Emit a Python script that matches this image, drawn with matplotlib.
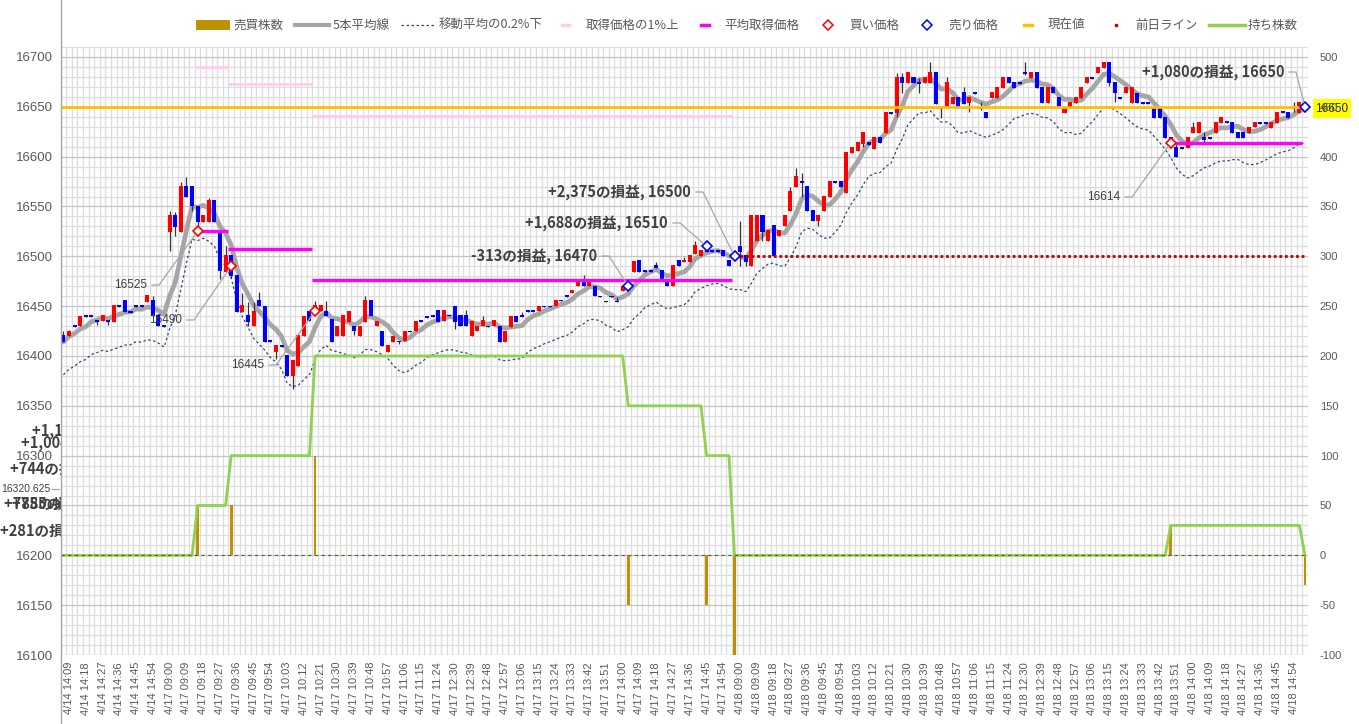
import matplotlib
matplotlib.use("Agg")
import matplotlib.pyplot as plt
import numpy as np
import pandas as pd
from matplotlib.lines import Line2D
from matplotlib.patches import Rectangle
from matplotlib.transforms import IdentityTransform

W, H = 1359, 724
JP = ["Noto Sans CJK JP", "DejaVu Sans"]
NUM = ["Liberation Sans", "DejaVu Sans"]


# 3-minute bars, three trading days
def session(day, start, end):
    times = pd.date_range(f"2000-01-01 {start}", f"2000-01-01 {end}", freq="3min")
    return [f"{day} {t:%H:%M}" for t in times]


CATS = (session("4/14", "14:06", "15:00")
        + session("4/17", "09:00", "11:30") + session("4/17", "12:30", "15:00")
        + session("4/18", "09:00", "11:30") + session("4/18", "12:30", "15:00"))

OPEN = [
    16421, 16420, 16431, 16430, 16441, 16441, 16436, 16435, 16436, 16434,
    16451, 16456, 16445, 16451, 16451, 16454, 16456, 16441, 16431, 16524,
    16541, 16524, 16571, 16571, 16550, 16534, 16534, 16556, 16526, 16484,
    16501, 16481, 16444, 16441, 16430, 16456, 16450, 16416, 16404, 16411,
    16401, 16380, 16390, 16420, 16445, 16443, 16445, 16445, 16437, 16420,
    16420, 16434, 16430, 16420, 16434, 16456, 16430, 16425, 16404, 16414,
    16415, 16415, 16425, 16425, 16436, 16440, 16441, 16446, 16435, 16441,
    16450, 16441, 16441, 16420, 16425, 16430, 16430, 16430, 16430, 16414,
    16429, 16440, 16441, 16446, 16446, 16445, 16450, 16450, 16450, 16456,
    16461, 16463, 16470, 16476, 16470, 16470, 16460, 16455, 16460, 16455,
    16465, 16470, 16484, 16496, 16486, 16486, 16491, 16486, 16476, 16470,
    16496, 16494, 16494, 16502, 16500, 16506, 16506, 16506, 16506, 16496,
    16500, 16510, 16501, 16490, 16515, 16541, 16515, 16531, 16520, 16530,
    16545, 16570, 16576, 16571, 16546, 16535, 16545, 16560, 16576, 16576,
    16564, 16604, 16606, 16613, 16615, 16608, 16620, 16624, 16645, 16644,
    16680, 16674, 16680, 16675, 16674, 16674, 16685, 16650, 16650, 16653,
    16660, 16665, 16654, 16665, 16650, 16645, 16659, 16659, 16669, 16680,
    16675, 16675, 16685, 16679, 16685, 16670, 16654, 16670, 16660, 16644,
    16649, 16654, 16659, 16674, 16680, 16684, 16689, 16695, 16675, 16660,
    16664, 16654, 16664, 16655, 16655, 16649, 16649, 16640, 16620, 16610,
    16610, 16609, 16624, 16624, 16620, 16620, 16624, 16634, 16635, 16635,
    16625, 16625, 16624, 16630, 16634, 16634, 16629, 16634, 16645, 16645,
    16650, 16644, 16650,
]
CLOSE = [
    16414, 16425, 16429, 16440, 16439, 16439, 16434, 16441, 16434, 16451,
    16449, 16444, 16443, 16449, 16449, 16461, 16440, 16430, 16429, 16541,
    16529, 16571, 16560, 16550, 16534, 16541, 16556, 16534, 16485, 16501,
    16480, 16444, 16451, 16434, 16445, 16450, 16414, 16414, 16411, 16409,
    16380, 16396, 16421, 16440, 16435, 16451, 16451, 16440, 16414, 16430,
    16441, 16445, 16425, 16430, 16456, 16440, 16435, 16410, 16411, 16420,
    16414, 16425, 16424, 16435, 16434, 16438, 16439, 16434, 16446, 16440,
    16434, 16430, 16430, 16435, 16430, 16436, 16429, 16436, 16414, 16425,
    16440, 16434, 16439, 16444, 16444, 16450, 16449, 16449, 16456, 16455,
    16459, 16466, 16476, 16470, 16476, 16460, 16459, 16454, 16459, 16454,
    16470, 16475, 16495, 16484, 16484, 16484, 16488, 16475, 16470, 16491,
    16490, 16496, 16501, 16511, 16506, 16504, 16504, 16504, 16500, 16490,
    16500, 16504, 16494, 16541, 16541, 16524, 16526, 16500, 16526, 16541,
    16566, 16581, 16574, 16545, 16535, 16541, 16561, 16576, 16574, 16570,
    16605, 16610, 16615, 16625, 16612, 16620, 16614, 16645, 16643, 16680,
    16674, 16685, 16674, 16673, 16680, 16685, 16653, 16648, 16675, 16660,
    16649, 16653, 16660, 16663, 16648, 16639, 16665, 16670, 16680, 16674,
    16669, 16673, 16683, 16685, 16669, 16654, 16670, 16664, 16649, 16650,
    16655, 16660, 16670, 16680, 16678, 16690, 16695, 16674, 16664, 16658,
    16670, 16670, 16654, 16653, 16653, 16639, 16639, 16619, 16612, 16600,
    16608, 16620, 16630, 16635, 16617, 16618, 16635, 16640, 16634, 16624,
    16619, 16619, 16630, 16635, 16633, 16633, 16635, 16645, 16644, 16639,
    16648, 16655, 16650,
]
# wick ends that stick out of the body (bar index -> price)
WICK_HIGH = {0: 16425, 1: 16426, 16: 16460, 19: 16545, 20: 16544, 21: 16575,
             22: 16580, 26: 16559, 29: 16510, 32: 16463, 33: 16454, 34: 16454,
             35: 16464, 45: 16455, 47: 16455, 54: 16460, 72: 16446, 75: 16440,
             82: 16444, 93: 16481, 99: 16459, 101: 16477, 106: 16494, 111: 16499,
             113: 16515, 121: 16535, 130: 16570, 131: 16589, 132: 16584,
             149: 16684, 150: 16684, 153: 16679, 155: 16695, 158: 16680,
             161: 16670, 164: 16655, 172: 16695, 199: 16615, 202: 16635,
             204: 16625, 220: 16655}
WICK_LOW = {6: 16431, 8: 16431, 19: 16505, 20: 16520, 23: 16545, 24: 16525,
            28: 16477, 30: 16478, 33: 16430, 38: 16397, 41: 16367, 52: 16421,
            60: 16412, 70: 16427, 121: 16490, 122: 16490, 125: 16515, 132: 16560,
            135: 16530, 143: 16610, 149: 16640, 150: 16664, 153: 16664, 157: 16639,
            162: 16645, 164: 16647, 172: 16682, 187: 16671, 188: 16655, 198: 16610,
            204: 16615, 220: 16645}

# trades: bar index, shares (+buy / -sell), price
TRADE_IDX = [24, 30, 45, 101, 115, 120, 198, 222]
TRADE_QTY = [50, 50, 100, -50, -50, -100, 30, -30]
TRADE_PRICE = [16525, 16490, 16445, 16470, 16510, 16500, 16614, 16650]

# holdings line (right axis): runs of (first bar, last bar, shares)
HOLD_RUNS = [(0, 23, 0), (24, 29, 50), (30, 44, 100), (45, 100, 200),
             (101, 114, 150), (115, 119, 100), (120, 197, 0), (198, 221, 30),
             (222, 222, 0)]

# average cost and cost +1% (first bar, last bar, price)
AVG_RUNS = [(24, 29, 16525), (30, 44, 16507.5), (45, 119, 16476.25), (198, 221, 16614)]
UP1_RUNS = [(24, 29, 16690.25), (30, 44, 16672.6), (45, 119, 16641.0)]

CURRENT = 16650
PREV_DAY = 16500
PREV_DAY_FROM = 121

LEFT_TICKS = [16100, 16150, 16200, 16300, 16350, 16400, 16450, 16500,
              16550, 16600, 16650, 16700]
RIGHT_TICKS = list(range(-100, 501, 50))

# data labels: text, bar, price, label right edge (px), label y (px), bold
LABELS = [
    ("16525", 24, 16525, 147, 285, False),
    ("16490", 30, 16490, 182, 320, False),
    ("16445", 45, 16445, 264, 365, False),
    ("-313の損益, 16470", 101, 16470, 597, 256, True),
    ("+1,688の損益, 16510", 115, 16510, 668, 223, True),
    ("+2,375の損益, 16500", 120, 16500, 691, 192, True),
    ("+1,080の損益, 16650", 222, 16650, 1284, 72, True),
    ("16614", 198, 16614, 1120, 197, False),
]
# labels of earlier trades, hidden behind the plot area (text, left px, y px)
HIDDEN_LABELS = [
    ("+1,104の損益, 16520", 32, 431),
    ("+1,004の損益, 16510", 21, 443),
    ("+744の損益, 16480", 10, 469),
    ("+788の損益, 16490", 4, 504),
    ("+755の損益, 16485", 12, 504),
    ("+281の損益, 16460", 0, 531),
]

RED, BLUE = "#FF0000", "#0000FF"
GRID_MINOR, GRID_MAJOR = "#DDDDDD", "#C4C4C4"
TXT = "#595959"

n = len(CATS)
x = np.arange(n)
o = np.array(OPEN, float)
c = np.array(CLOSE, float)
hi = np.maximum(o, c)
lo = np.minimum(o, c)
for k, v in WICK_HIGH.items():
    hi[k] = v
for k, v in WICK_LOW.items():
    lo[k] = v
ma5 = pd.Series(c).rolling(5, min_periods=1).mean().to_numpy()
hold = np.zeros(n)
for a, b, v in HOLD_RUNS:
    hold[a:b + 1] = v

fig = plt.figure(figsize=(W / 100, H / 100), dpi=100)
left_px, right_px, top_px, bot_px = 60.6, 1307.8, 47, 655
ax = fig.add_axes([left_px / W, 1 - bot_px / H, (right_px - left_px) / W, (bot_px - top_px) / H])
ax.set_xlim(-0.5, n - 0.5)
ax.set_ylim(16100, 16710)
ax2 = ax.twinx()
ax2.set_ylim(-100, 510)
for a in (ax, ax2):
    for s in a.spines.values():
        s.set_visible(False)

# grid
ax.vlines(np.arange(n + 1) - 0.5, 16100, 16710, color=GRID_MINOR, lw=0.9, zorder=0)
ys = np.arange(16110, 16711, 10)
ax.hlines(ys[ys % 50 != 0], -0.5, n - 0.5, color=GRID_MINOR, lw=0.9, zorder=0)
ax.hlines(np.arange(16100, 16701, 50), -0.5, n - 0.5, color=GRID_MAJOR, lw=0.9, zorder=0.1)

# moving averages
ax.plot(x, ma5, color="#A6A6A6", lw=3.4, solid_capstyle="round", zorder=2)
ax.plot(x, ma5 * 0.998, color="#2F4A7A", lw=0.9, ls=(0, (2, 2)), zorder=2)

# candles
up = c >= o
ax.vlines(x, lo, hi, color="#333333", lw=0.9, zorder=3)
body = np.maximum(np.abs(c - o), 1.3)
ax.bar(x, body, bottom=np.minimum(o, c), width=0.72,
       color=np.where(up, RED, BLUE), zorder=4)

# cost lines
for a, b, v in UP1_RUNS:
    ax.hlines(v, a - 0.5, b + 0.5, color="#FFCCEE", lw=2, zorder=5)
for a, b, v in AVG_RUNS:
    ax.hlines(v, a - 0.5, b + 0.5, color="#FF00FF", lw=2.4, zorder=5)
ax.hlines(CURRENT, -0.5, n - 0.5, color="#FFC000", lw=2, zorder=5)
ax.plot(x[PREV_DAY_FROM:], np.full(n - PREV_DAY_FROM, PREV_DAY), color="#C00000",
        lw=2, ls=(0, (1, 1)), zorder=5)

# holdings and trade volume (right axis)
ax2.bar(TRADE_IDX, TRADE_QTY, width=0.5, color="#BF9000", zorder=2)
ax2.plot(x, hold, color="#92D050", lw=2, zorder=3)
ax2.axhline(0, color="#4F6228", lw=0.8, ls=(0, (3, 3)), zorder=3.5)

# trade markers (price axis mapped onto the right axis: 16100 -> -100)
buy = [i for i, q in enumerate(TRADE_QTY) if q > 0]
sell = [i for i, q in enumerate(TRADE_QTY) if q < 0]
ax2.plot([TRADE_IDX[i] for i in buy], [TRADE_PRICE[i] - 16200 for i in buy],
         ls="none", marker="D", ms=5.5, mfc="white", mec=RED, mew=1.2, zorder=6, clip_on=False)
ax2.plot([TRADE_IDX[i] for i in sell], [TRADE_PRICE[i] - 16200 for i in sell],
         ls="none", marker="D", ms=5.5, mfc="white", mec=BLUE, mew=1.2, zorder=6, clip_on=False)

# ticks
ax.set_xticks(x[1::3])
ax.set_xticklabels(CATS[1::3], rotation=90, fontsize=8, color=TXT, family=NUM)
ax.tick_params(axis="x", length=0, pad=5)
ax.set_yticks(LEFT_TICKS)
ax.set_yticklabels([str(v) for v in LEFT_TICKS], fontsize=9.5, color=TXT, family=NUM)
ax.tick_params(axis="y", length=0, pad=5.5)
ax2.set_yticks(RIGHT_TICKS)
ax2.set_yticklabels([str(v) for v in RIGHT_TICKS], fontsize=8, color=TXT, family=NUM)
ax2.tick_params(axis="y", length=0, pad=8.5)

# left axis line running the full height
fig.add_artist(Line2D([left_px, left_px], [0, H], transform=IdentityTransform(),
                      color="#A6A6A6", lw=1))

# data labels with leader lines
fig.canvas.draw()
for text, i, p, xr, yt, bold in LABELS:
    fig.text(xr / W, 1 - yt / H, text, ha="right", va="center",
             fontsize=10.5 if bold else 8.5, fontweight="bold" if bold else "normal",
             color="#404040", family=JP if bold else NUM, zorder=7)
    px, py = ax.transData.transform((i, p))
    x0, y0 = xr + 5, H - yt
    x1 = x0 + 7
    d = np.hypot(px - x1, py - y0)
    ex, ey = px - (px - x1) * 5 / d, py - (py - y0) * 5 / d
    fig.add_artist(Line2D([x0, x1, ex], [y0, y0, ey], transform=IdentityTransform(),
                          color="#A6A6A6", lw=0.9, zorder=7))

for text, xl, yt in HIDDEN_LABELS:
    fig.text(xl / W, 1 - yt / H, text, ha="left", va="center", fontsize=10.5,
             fontweight="bold", color="#404040", family=JP, zorder=-1)
fig.text(50 / W, 1 - 489 / H, "16320.625", ha="right", va="center", fontsize=7.5,
         color="#404040", family=NUM, zorder=-1)
fig.add_artist(Line2D([52, 59], [H - 489, H - 489], transform=IdentityTransform(),
                      color="#A6A6A6", lw=0.9))

# current value box at the right
fig.add_artist(Rectangle((1313, H - 118), 38, 19, transform=IdentityTransform(),
                         facecolor="#FFFF00", edgecolor="none", zorder=-1))
fig.text(1332 / W, 1 - 108.5 / H, "16650", ha="center", va="center", fontsize=8.5,
         color="#262626", family=NUM, zorder=-0.5)

# legend
ly = H - 25
def leg_text(xp, s):
    fig.text(xp / W, ly / H, s, ha="left", va="center", fontsize=9, color=TXT, family=JP)

fig.add_artist(Rectangle((196, ly - 5), 34, 10, transform=IdentityTransform(),
                         facecolor="#BF9000", edgecolor="none"))
leg_text(233, "売買株数")
fig.add_artist(Line2D([295, 329], [ly, ly], transform=IdentityTransform(), color="#A6A6A6", lw=3))
leg_text(333, "5本平均線")
fig.add_artist(Line2D([401, 436], [ly, ly], transform=IdentityTransform(), color="#2F4A7A",
                      lw=0.9, ls=(0, (2, 2))))
leg_text(439, "移動平均の0.2%下")
fig.add_artist(Line2D([562, 569], [ly, ly], transform=IdentityTransform(), color="#FFCCEE", lw=2.5))
leg_text(586, "取得価格の1%上")
fig.add_artist(Line2D([701, 709], [ly, ly], transform=IdentityTransform(), color="#FF00FF", lw=2.5))
leg_text(724, "平均取得価格")
fig.add_artist(Line2D([828], [ly], transform=IdentityTransform(), ls="none", marker="D", ms=5,
                      mfc="white", mec=RED, mew=1.1))
leg_text(849, "買い価格")
fig.add_artist(Line2D([927], [ly], transform=IdentityTransform(), ls="none", marker="D", ms=5,
                      mfc="white", mec=BLUE, mew=1.1))
leg_text(948, "売り価格")
fig.add_artist(Line2D([1024, 1032], [ly, ly], transform=IdentityTransform(), color="#FFC000", lw=2.5))
leg_text(1048, "現在値")
fig.add_artist(Line2D([1116], [ly], transform=IdentityTransform(), ls="none", marker="s", ms=2,
                      mfc="#C00000", mec="#C00000"))
leg_text(1135, "前日ライン")
fig.add_artist(Line2D([1209, 1245], [ly, ly], transform=IdentityTransform(), color="#92D050", lw=2.5))
leg_text(1248, "持ち株数")

fig.savefig("out.png", dpi=100, facecolor="white")
